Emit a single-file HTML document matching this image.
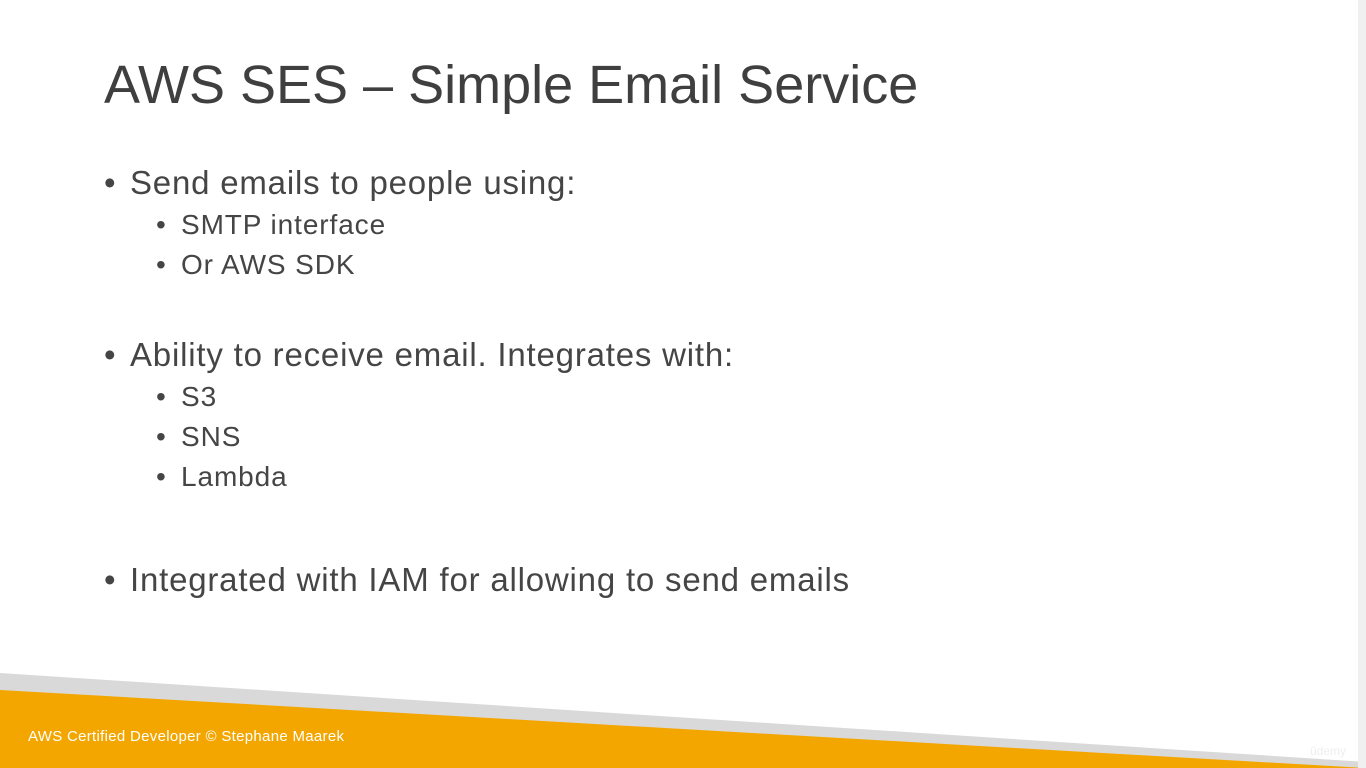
<!DOCTYPE html>
<html><head><style>
body{margin:0;width:1366px;height:768px;overflow:hidden;background:#fff;font-family:"Liberation Sans",sans-serif;position:relative;color:#454545}
.t{position:absolute;left:104px;top:54px;font-size:54px;letter-spacing:0px;white-space:nowrap;color:#3f3f3f}
.b,.s{position:absolute;white-space:nowrap}
.b{font-size:33px;letter-spacing:0.8px}
.s{font-size:28px;letter-spacing:0.9px}
.b i,.s i{font-style:normal;position:absolute;left:0}
.b span{position:absolute;left:26px}
.s span{position:absolute;left:25px}
</style></head><body>
<div class="t">AWS SES – Simple Email Service</div>
<div class="b" style="left:104px;top:164px"><i>•</i><span>Send emails to people using:</span></div>
<div class="s" style="left:156px;top:209px"><i>•</i><span>SMTP interface</span></div>
<div class="s" style="left:156px;top:249px"><i>•</i><span>Or AWS SDK</span></div>
<div class="b" style="left:104px;top:336px"><i>•</i><span>Ability to receive email. Integrates with:</span></div>
<div class="s" style="left:156px;top:381px"><i>•</i><span>S3</span></div>
<div class="s" style="left:156px;top:421px"><i>•</i><span>SNS</span></div>
<div class="s" style="left:156px;top:461px"><i>•</i><span>Lambda</span></div>
<div class="b" style="left:104px;top:561px"><i>•</i><span>Integrated with IAM for allowing to send emails</span></div>
<svg style="position:absolute;left:0;top:0" width="1366" height="768">
<polygon points="0,673 1366,762 1366,768 0,768" fill="#d9d9d9"/>
<polygon points="0,690 1366,768 0,768" fill="#f4a600"/>
<rect x="1358" y="0" width="8" height="768" fill="#f0f0f0"/>
<text x="28" y="741" font-family="Liberation Sans" font-size="15" letter-spacing="0.3" fill="#fff">AWS Certified Developer © Stephane Maarek</text>
<text x="1310" y="755" font-family="Liberation Sans" font-size="12" fill="#eee">ûdemy</text>
</svg>
</body></html>
